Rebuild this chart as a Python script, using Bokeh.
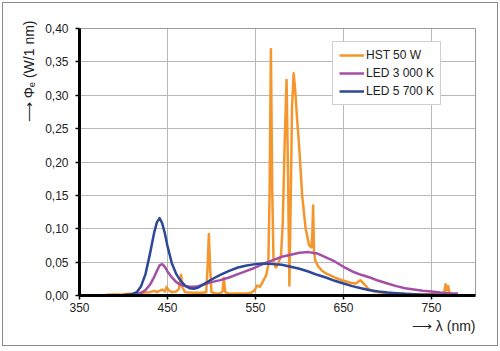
from bokeh.plotting import figure
from bokeh.models import (FixedTicker, CustomJSTickFormatter, Legend, LegendItem, Title,
                          Range1d, ColumnDataSource, InlineStyleSheet)
from bokeh.embed import file_html
from bokeh.resources import INLINE

# ---------------- data ----------------
series_names = ["HST 50 W", "LED 3 000 K", "LED 5 700 K"]
series_colors = ["#F5962D", "#A24FA5", "#2C4897"]

hst_wl = [380, 400, 420, 430, 435, 438, 441, 444, 447, 449, 451, 455, 460, 463, 465.5, 467, 470,
          480, 490, 494, 495.5, 497, 498.5, 500, 505, 510, 512.5, 514, 515.5, 518, 530, 540, 545,
          549, 552, 555, 558, 562, 564.5, 566, 567.5, 569, 570.5, 573, 576, 579, 581, 583, 585.3,
          587, 588.5, 590, 591.5, 593.3, 595, 597, 600, 603, 607, 611, 613.5, 614.5, 615.5, 616.5,
          618, 621, 625, 630, 640, 650, 658, 664, 669, 673, 678, 685, 695, 710, 730, 750, 762,
          764.5, 766, 767.5, 769, 770.5, 773, 780]
hst_val = [0.001, 0.002, 0.004, 0.005, 0.007, 0.005, 0.007, 0.009, 0.006, 0.013, 0.008, 0.005,
           0.006, 0.010, 0.031, 0.012, 0.005, 0.004, 0.004, 0.005, 0.040, 0.092, 0.040, 0.005,
           0.003, 0.003, 0.006, 0.026, 0.006, 0.003, 0.003, 0.003, 0.004, 0.008, 0.015, 0.013,
           0.020, 0.030, 0.045, 0.150, 0.369, 0.160, 0.050, 0.042, 0.048, 0.060, 0.110, 0.220,
           0.323, 0.180, 0.015, 0.140, 0.280, 0.333, 0.310, 0.270, 0.215, 0.150, 0.100, 0.075,
           0.072, 0.090, 0.135, 0.065, 0.052, 0.044, 0.038, 0.033, 0.027, 0.022, 0.019, 0.018,
           0.023, 0.018, 0.010, 0.006, 0.004, 0.003, 0.002, 0.002, 0.002, 0.005, 0.017, 0.008,
           0.014, 0.004, 0.002, 0.002]

led_wl = [380, 400, 410, 415, 420, 425, 430, 435, 438, 441, 444, 447, 450, 455, 460, 465, 470,
          475, 480, 485, 490, 500, 510, 520, 530, 540, 550, 560, 570, 580, 590, 600, 610, 620,
          630, 640, 650, 660, 670, 680, 690, 700, 710, 720, 730, 740, 750, 760, 770, 780]
led3000_val = [0.000, 0.0008, 0.0015, 0.002, 0.004, 0.008, 0.016, 0.028, 0.037, 0.045, 0.047,
               0.043, 0.036, 0.027, 0.020, 0.016, 0.014, 0.013, 0.013, 0.014, 0.016, 0.020,
               0.023, 0.027, 0.032, 0.037, 0.042, 0.048, 0.053, 0.058, 0.061, 0.064, 0.065,
               0.063, 0.057, 0.051, 0.043, 0.036, 0.031, 0.027, 0.022, 0.018, 0.014, 0.011,
               0.009, 0.007, 0.006, 0.0045, 0.0035, 0.003]
led5700_val = [0.000, 0.0005, 0.002, 0.005, 0.014, 0.032, 0.062, 0.095, 0.110, 0.116, 0.108,
               0.093, 0.074, 0.048, 0.032, 0.022, 0.015, 0.011, 0.010, 0.012, 0.016, 0.024,
               0.031, 0.037, 0.042, 0.045, 0.047, 0.048, 0.047, 0.046, 0.043, 0.040, 0.036,
               0.031, 0.027, 0.022, 0.018, 0.014, 0.011, 0.008, 0.006, 0.0045, 0.0035, 0.0025,
               0.0018, 0.0013, 0.001, 0.0007, 0.0005, 0.0004]

x_ticks = [350, 450, 550, 650, 750]
y_ticks = [0.0, 0.05, 0.10, 0.15, 0.20, 0.25, 0.30, 0.35, 0.40]

y_title = "⟶ Φₑ (W/1 nm)"
x_title = "⟶ λ (nm)"

assert len(hst_wl) == len(hst_val)
assert len(led_wl) == len(led3000_val) == len(led5700_val)

# ---------------- layout ----------------
W, H = 500, 351
FL, FR, FT, FB = 79, 475, 28, 295
FONT = "Liberation Sans"
INK = "#222222"

p = figure(width=W, height=H, output_backend="svg", toolbar_location=None,
           x_range=Range1d(350, 800), y_range=Range1d(0, 0.40),
           min_border_left=FL, min_border_right=W - FR,
           min_border_top=FT, min_border_bottom=H - FB)
p.background_fill_color = "white"
p.border_fill_color = "white"
p.outline_line_color = "#9a9a9a"
p.outline_line_width = 1

# thin grey frame round the whole picture (drawn over the canvas by CSS)
p.stylesheets = [InlineStyleSheet(css=(
    ":host::after { content: ''; position: absolute; left: 2px; top: 2px; "
    "width: 494px; height: 342px; border: 1px solid #8a8a8a; "
    "pointer-events: none; z-index: 100; }"))]

p.xaxis.ticker = FixedTicker(ticks=x_ticks)
p.yaxis.ticker = FixedTicker(ticks=y_ticks)
p.yaxis.formatter = CustomJSTickFormatter(code="return tick.toFixed(2).replace('.', ',');")
p.xgrid.grid_line_color = "#b8b8b8"
p.ygrid.grid_line_color = "#b8b8b8"
p.xgrid.grid_line_width = 1
p.ygrid.grid_line_width = 1

for ax in (p.xaxis[0], p.yaxis[0]):
    ax.axis_line_color = "black"
    ax.axis_line_width = 3
    ax.major_tick_line_color = "black"
    ax.major_tick_line_width = 1.5
    ax.major_tick_out = 4
    ax.major_tick_in = 0
    ax.minor_tick_line_color = None
    ax.major_label_text_font = FONT
    ax.major_label_text_font_size = "12px"
    ax.major_label_text_color = INK
p.xaxis.major_label_standoff = 3
p.yaxis.major_label_standoff = 7

src_h = ColumnDataSource(dict(x=hst_wl, y=hst_val))
src_l = ColumnDataSource(dict(x=led_wl, y3=led3000_val, y5=led5700_val))
r1 = p.line("x", "y", source=src_h, line_color=series_colors[0], line_width=2.5, line_join="round")
r2 = p.line("x", "y3", source=src_l, line_color=series_colors[1], line_width=2.5, line_join="round")
r3 = p.line("x", "y5", source=src_l, line_color=series_colors[2], line_width=2.5, line_join="round")

legend = Legend(items=[LegendItem(label=series_names[0], renderers=[r1]),
                       LegendItem(label=series_names[1], renderers=[r2]),
                       LegendItem(label=series_names[2], renderers=[r3])],
                location=(253, 190))
legend.border_line_color = "#a0a0a0"
legend.border_line_width = 1
legend.background_fill_color = "white"
legend.background_fill_alpha = 1
legend.label_text_font = FONT
legend.label_text_font_size = "12px"
legend.label_text_color = INK
legend.glyph_width = 25
legend.glyph_height = 14
legend.label_height = 14
legend.label_standoff = 2
legend.spacing = 4
legend.padding = 6
legend.margin = 0
p.add_layout(legend)

# axis titles as side-panel titles
yt = Title(text=y_title, align="right", offset=-8, vertical_align="middle", standoff=10,
           text_font=FONT, text_font_size="14px", text_font_style="normal", text_color=INK)
p.add_layout(yt, "left")
xt = Title(text=x_title, align="right", offset=0, vertical_align="middle", standoff=4,
           text_font=FONT, text_font_size="14px", text_font_style="normal", text_color=INK)
p.add_layout(xt, "below")

open("out.html", "w").write(file_html(p, INLINE))
